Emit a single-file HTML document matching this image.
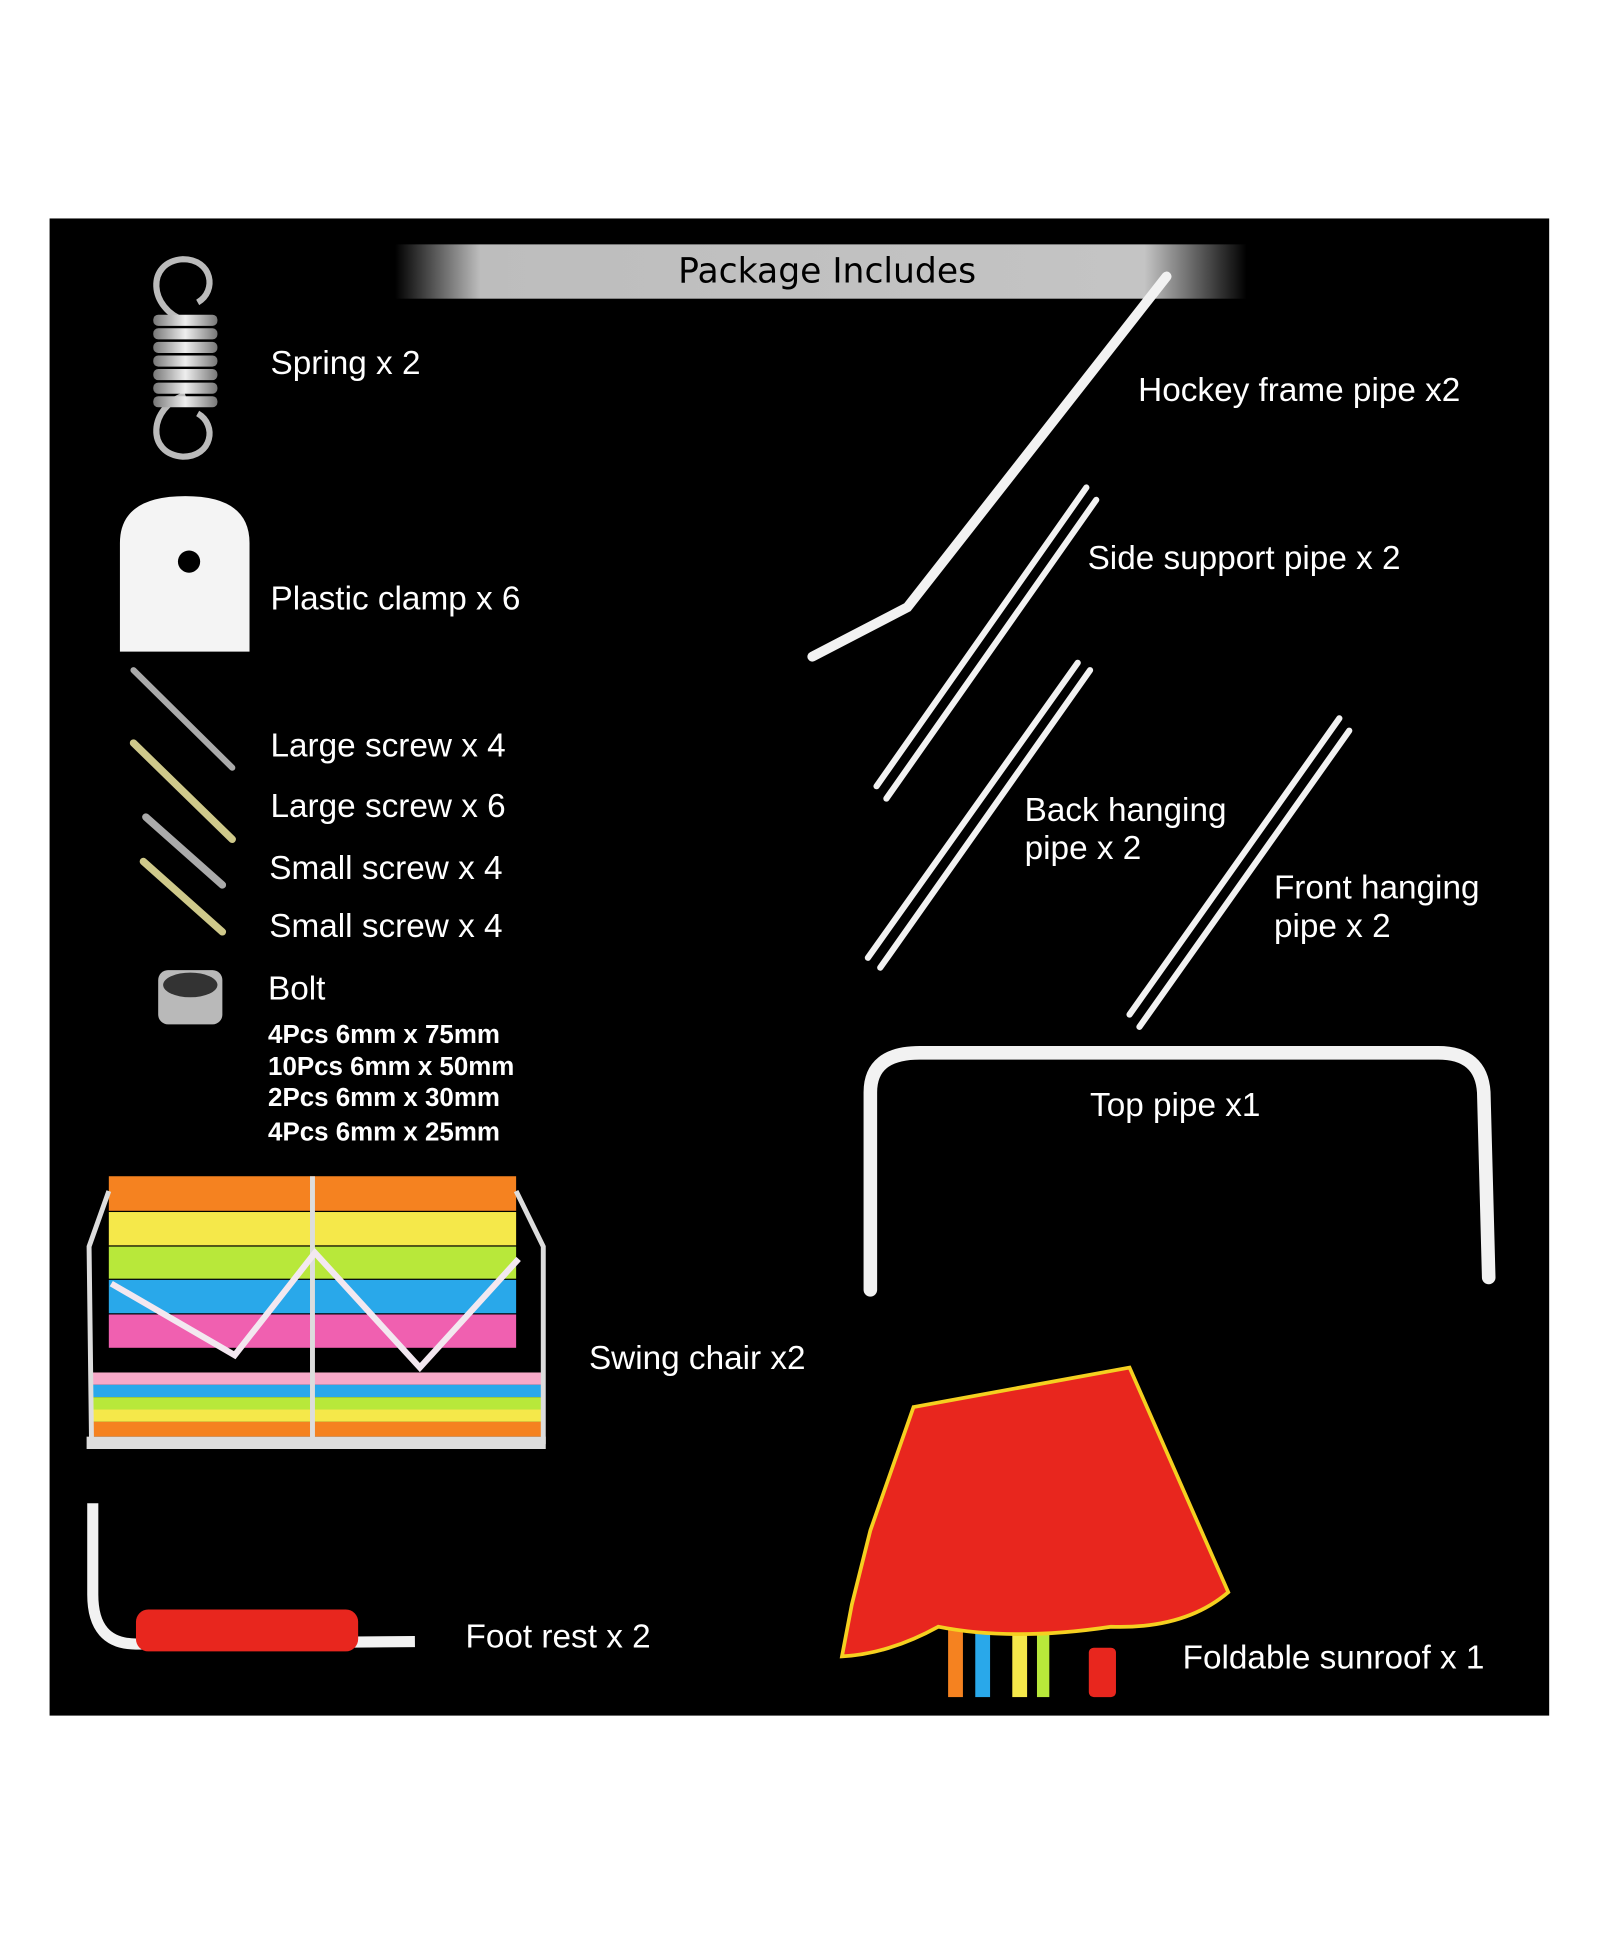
<!DOCTYPE html>
<html><head><meta charset="utf-8"><style>
html,body{margin:0;padding:0;background:#fff;width:1600px;height:1939px;overflow:hidden}
svg{display:block}
text{font-family:"Liberation Sans","DejaVu Sans",sans-serif;fill:#fff}
</style></head><body>
<svg width="1600" height="1939" viewBox="0 0 1296 1571" xmlns="http://www.w3.org/2000/svg">
<defs>
<linearGradient id="band" x1="0" x2="1" y1="0" y2="0">
<stop offset="0" stop-color="#000"/><stop offset="0.1" stop-color="#bdbdbd"/><stop offset="0.88" stop-color="#c4c4c4"/><stop offset="1" stop-color="#000"/>
</linearGradient>
<linearGradient id="metal" x1="0" x2="1"><stop offset="0" stop-color="#777"/><stop offset="0.5" stop-color="#eee"/><stop offset="1" stop-color="#777"/></linearGradient>
</defs>
<rect x="0" y="0" width="1296" height="1571" fill="#fff"/>
<rect x="40" y="177" width="1215" height="1213" fill="#000"/>
<rect x="320" y="198" width="690" height="44" fill="url(#band)"/>
<text x="670" y="229" font-size="28" text-anchor="middle" style="fill:#000;font-family:'DejaVu Sans',sans-serif">Package  Includes</text>

<path d="M150 260 C120 250 118 212 148 210 C172 210 176 236 160 245" fill="none" stroke="#bbb" stroke-width="5"/>
<path d="M150 320 C120 330 118 368 148 370 C172 370 176 344 160 335" fill="none" stroke="#bbb" stroke-width="5"/>
<g fill="url(#metal)">
<rect x="124" y="255" width="52" height="9" rx="4"/><rect x="124" y="266" width="52" height="9" rx="4"/>
<rect x="124" y="277" width="52" height="9" rx="4"/><rect x="124" y="288" width="52" height="9" rx="4"/>
<rect x="124" y="299" width="52" height="9" rx="4"/><rect x="124" y="310" width="52" height="9" rx="4"/>
<rect x="124" y="321" width="52" height="9" rx="4"/>
</g>
<path d="M97 528 L97 440 Q97 402 150 402 Q202 402 202 440 L202 528 Z" fill="#f4f4f4"/>
<circle cx="153" cy="455" r="9" fill="#000"/>
<g stroke-linecap="round">
<line x1="108" y1="543" x2="188" y2="622" stroke="#aaa" stroke-width="5"/>
<line x1="108" y1="602" x2="188" y2="680" stroke="#cfc98a" stroke-width="6"/>
<line x1="118" y1="662" x2="180" y2="717" stroke="#aaa" stroke-width="6"/>
<line x1="116" y1="698" x2="180" y2="755" stroke="#cfc98a" stroke-width="6"/>
</g>
<rect x="128" y="786" width="52" height="44" rx="8" fill="#b9b9b9"/>
<ellipse cx="154" cy="798" rx="22" ry="10" fill="#333"/>
<g font-size="27">
<text x="219" y="303">Spring x 2</text>
<text x="219" y="494">Plastic clamp x 6</text>
<text x="219" y="613">Large screw x 4</text>
<text x="219" y="662">Large screw x 6</text>
<text x="218" y="712">Small screw x 4</text>
<text x="218" y="759">Small screw x 4</text>
<text x="217" y="810">Bolt</text>
</g>
<g font-size="21" font-weight="600">
<text x="217" y="845">4Pcs 6mm x 75mm</text>
<text x="217" y="871">10Pcs 6mm x 50mm</text>
<text x="217" y="896">2Pcs 6mm x 30mm</text>
<text x="217" y="924">4Pcs 6mm x 25mm</text>
</g>
<g fill="none" stroke="#f2f2f2" stroke-linecap="round">
<polyline points="945,224 735,492 658,532" stroke-width="8"/>
<line x1="880" y1="395" x2="710" y2="637" stroke-width="5"/>
<line x1="888" y1="405" x2="718" y2="647" stroke-width="5"/>
<line x1="873" y1="537" x2="703" y2="776" stroke-width="5"/>
<line x1="883" y1="543" x2="713" y2="784" stroke-width="5"/>
<line x1="1085" y1="582" x2="915" y2="822" stroke-width="5"/>
<line x1="1093" y1="592" x2="923" y2="832" stroke-width="5"/>
<path d="M705 1045 L705 885 Q705 853 745 853 L1165 853 Q1200 853 1202 885 L1206 1035" stroke-width="11"/>
</g>
<g font-size="27">
<text x="922" y="325">Hockey frame pipe x2</text>
<text x="881" y="461">Side support pipe x 2</text>
<text x="830" y="665">Back hanging</text>
<text x="830" y="696">pipe x 2</text>
<text x="1032" y="728">Front hanging</text>
<text x="1032" y="759">pipe x 2</text>
<text x="883" y="904">Top pipe x1</text>
<text x="477" y="1109">Swing chair x2</text>
<text x="377" y="1335">Foot rest x 2</text>
<text x="958" y="1352">Foldable sunroof x 1</text>
</g>
<rect x="88" y="953" width="330" height="28" fill="#f58220"/>
<rect x="88" y="982" width="330" height="27" fill="#f5e84a"/>
<rect x="88" y="1010" width="330" height="26" fill="#b8e83a"/>
<rect x="88" y="1037" width="330" height="27" fill="#29a8ea"/>
<rect x="88" y="1065" width="330" height="27" fill="#f060b0"/>
<rect x="72" y="1112" width="368" height="10" fill="#f7a8c8"/>
<rect x="72" y="1122" width="368" height="10" fill="#29a8ea"/>
<rect x="72" y="1132" width="368" height="10" fill="#b8e83a"/>
<rect x="72" y="1142" width="368" height="10" fill="#f5e84a"/>
<rect x="72" y="1152" width="368" height="12" fill="#f58220"/>
<rect x="70" y="1164" width="372" height="10" fill="#ddd"/>
<g fill="none" stroke="#ddd" stroke-width="4">
<path d="M88 965 L72 1010 L74 1170"/><path d="M418 965 L440 1010 L440 1170"/>
<line x1="253" y1="953" x2="253" y2="1170"/>
<path d="M90 1040 L190 1098 L255 1015 L340 1108 L420 1020" stroke="#f3e8f0" stroke-width="5"/>
</g>
<path d="M75 1218 L75 1292 Q75 1332 110 1332 L336 1330" fill="none" stroke="#f2f2f2" stroke-width="9"/>
<rect x="110" y="1304" width="180" height="34" rx="10" fill="#e8261e"/>
<rect x="768" y="1320" width="12" height="55" fill="#f58220"/>
<rect x="790" y="1320" width="12" height="55" fill="#29a8ea"/>
<rect x="820" y="1320" width="12" height="55" fill="#f5e84a"/>
<rect x="840" y="1320" width="10" height="55" fill="#b8e83a"/>
<rect x="882" y="1335" width="22" height="40" rx="4" fill="#e8261e"/>
<path d="M740 1140 L915 1108 L995 1290 Q960 1320 900 1318 Q820 1330 760 1318 Q720 1340 682 1342 L690 1300 L705 1240 Z" fill="#e8261e" stroke="#f5d020" stroke-width="3"/>
</svg>
</body></html>
